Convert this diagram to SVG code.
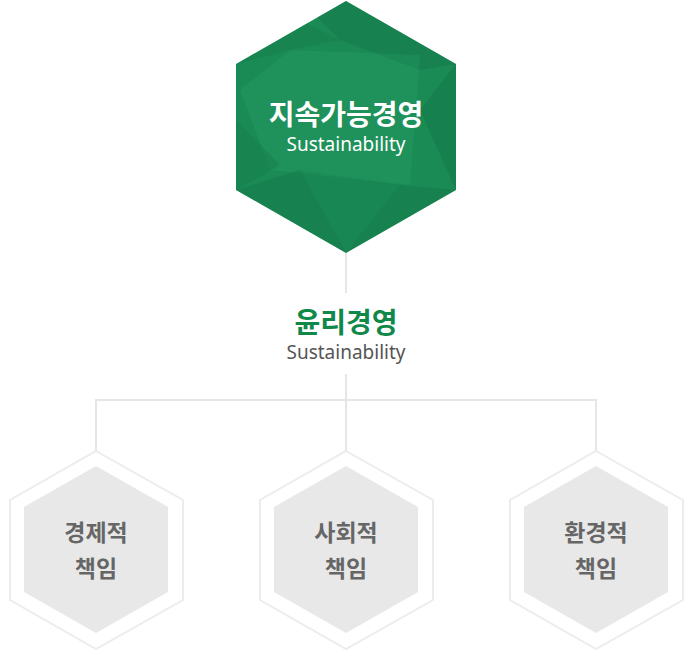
<svg xmlns="http://www.w3.org/2000/svg" width="690" height="650" viewBox="0 0 690 650">
<style>
.conn{fill:none;stroke:#e6e6e6;stroke-width:2}
.outer{fill:#fff;stroke:#ececec;stroke-width:2}
.inner{fill:#e8e8e8}
.lbl{font-family:"Noto Sans CJK KR","Noto Sans",sans-serif;font-weight:700;font-size:23px;fill:#666;text-anchor:middle}
.en{font-family:"Noto Sans","Noto Sans CJK KR",sans-serif;font-weight:400;font-size:19px;text-anchor:middle}
.ko{font-family:"Noto Sans CJK KR","Noto Sans",sans-serif;font-weight:700;font-size:28px;text-anchor:middle}
</style>
<defs>
<clipPath id="hexclip"><polygon points="346,1 456,64 456,190 346,253 236,190 236,64"/></clipPath>
</defs>
<g id="connectors">
<line class="conn" x1="346" y1="253" x2="346" y2="293"/>
<line class="conn" x1="346" y1="374" x2="346" y2="400"/>
<polyline class="conn" points="96,451 96,400 596,400 596,451"/>
<line class="conn" x1="346" y1="400" x2="346" y2="451"/>
</g>
<g id="main">
<polygon points="346,1 456,64 456,190 346,253 236,190 236,64" fill="#1b8b56"/>
<g clip-path="url(#hexclip)">
<polygon points="300,0 460,0 456,64 420,70 340,40" fill="#0f6e3e" opacity="0.3"/>
<polygon points="236,64 300,20 340,40 290,50" fill="#0f6e3e" opacity="0.2"/>
<polygon points="290,50 420,55 410,185 270,170 240,90" fill="#2aa56b" opacity="0.25"/>
<polygon points="456,64 420,110 456,190" fill="#0f6e3e" opacity="0.35"/>
<polygon points="236,120 280,165 236,190" fill="#0f6e3e" opacity="0.25"/>
<polygon points="236,190 300,170 346,253" fill="#0f6e3e" opacity="0.3"/>
<polygon points="346,253 400,185 456,190" fill="#0f6e3e" opacity="0.3"/>
<polygon points="300,170 400,185 346,253" fill="#0f6e3e" opacity="0.12"/>
</g>
<text class="ko" x="346" y="125" fill="#fff">지속가능경영</text>
<text class="en" x="346" y="151" fill="#fff">Sustainability</text>
</g>
<g id="ethics">
<text class="ko" x="346" y="333" fill="#10884a">윤리경영</text>
<text class="en" x="346" y="359" fill="#555">Sustainability</text>
</g>
<g id="economic">
<polygon class="outer" points="96,451 183,500 183,600 96,649 10,600 10,500"/>
<polygon class="inner" points="96,466 168,507 168,592 96,633 24,592 24,507"/>
<text class="lbl" x="96" y="541">경제적</text>
<text class="lbl" x="96" y="577">책임</text>
</g>
<g id="social">
<polygon class="outer" points="346,451 433,500 433,600 346,649 260,600 260,500"/>
<polygon class="inner" points="346,466 418,507 418,592 346,633 274,592 274,507"/>
<text class="lbl" x="346" y="541">사회적</text>
<text class="lbl" x="346" y="577">책임</text>
</g>
<g id="environmental">
<polygon class="outer" points="596,451 683,500 683,600 596,649 510,600 510,500"/>
<polygon class="inner" points="596,466 668,507 668,592 596,633 524,592 524,507"/>
<text class="lbl" x="596" y="541">환경적</text>
<text class="lbl" x="596" y="577">책임</text>
</g>
</svg>
